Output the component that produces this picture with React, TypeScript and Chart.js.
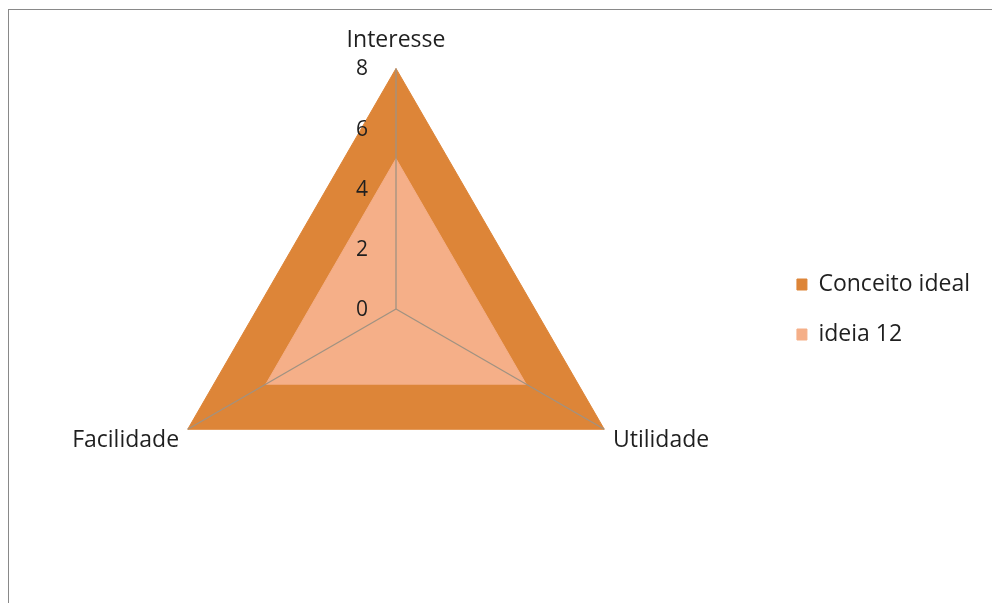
import React, { useEffect, useRef } from "react";
import { Chart, registerables } from "chart.js";

Chart.register(...registerables);

const categories = ["Interesse", "Utilidade", "Facilidade"];
const seriesNames = ["Conceito ideal", "ideia 12"];
const conceitoIdeal = [8, 8, 8];
const ideia12 = [5, 5, 5];
const tickValues = [0, 2, 4, 6, 8];

const FONT = "'Open Sans', sans-serif";
const TEXT = "#1f1f1f";

const tickLabelPlugin = {
  id: "tickLabels",
  afterDraw(chart: any) {
    const scale = chart.scales.r;
    const ctx = chart.ctx;
    ctx.save();
    ctx.font = `21px ${FONT}`;
    ctx.fillStyle = TEXT;
    ctx.textAlign = "right";
    ctx.textBaseline = "middle";
    tickValues.forEach((v) => {
      const p = scale.getPointPositionForValue(0, v);
      ctx.fillText(String(v), p.x - 28, p.y + 1);
    });
    ctx.restore();
  },
};

function RadarChart() {
  const ref = useRef<HTMLCanvasElement | null>(null);
  useEffect(() => {
    if (!ref.current) return;
    const chart = new Chart(ref.current, {
      type: "radar",
      data: {
        labels: categories,
        datasets: [
          {
            label: seriesNames[0],
            data: conceitoIdeal,
            backgroundColor: "#DD8538",
            borderColor: "#DD8538",
            borderWidth: 1,
            pointRadius: 0,
            fill: true,
            order: 2,
          },
          {
            label: seriesNames[1],
            data: ideia12,
            backgroundColor: "#F5AF88",
            borderColor: "#F5AF88",
            borderWidth: 1,
            pointRadius: 0,
            fill: true,
            order: 1,
          },
        ],
      },
      options: {
        responsive: false,
        animation: false,
        devicePixelRatio: 1,
        layout: { padding: { left: 14, top: 9, right: 12, bottom: 36 } },
        elements: { line: { tension: 0 } },
        plugins: {
          legend: {
            position: "right",
            title: {
              display: true,
              text: "",
              padding: { top: 23, bottom: 0 },
              font: { size: 10, lineHeight: 1 },
            },
            labels: {
              boxWidth: 10,
              boxHeight: 11,
              padding: 27,
              color: TEXT,
              font: { family: FONT, size: 23 },
              sort: (a: any, b: any) => a.datasetIndex - b.datasetIndex,
            },
          },
          tooltip: { enabled: false },
        },
        scales: {
          r: {
            min: 0,
            max: 8,
            ticks: { display: false, stepSize: 2 },
            grid: { display: false, z: 1 },
            angleLines: { display: true, color: "#A09282", lineWidth: 1.3 },
            pointLabels: {
              color: TEXT,
              font: { family: FONT, size: 23, lineHeight: 0.5 },
              padding: (c: any) => (c.index === 0 ? 22 : 10),
            },
          },
        },
      } as any,
      plugins: [tickLabelPlugin],
    });
    return () => chart.destroy();
  }, []);
  return <canvas ref={ref} width={983} height={593} style={{ display: "block" }} />;
}

export default function App() {
  return (
    <div
      style={{
        position: "absolute",
        left: 8,
        top: 9,
        width: 984,
        height: 594,
        borderTop: "1px solid #898989",
        borderLeft: "1px solid #898989",
        background: "#fff",
      }}
    >
      <RadarChart />
    </div>
  );
}
